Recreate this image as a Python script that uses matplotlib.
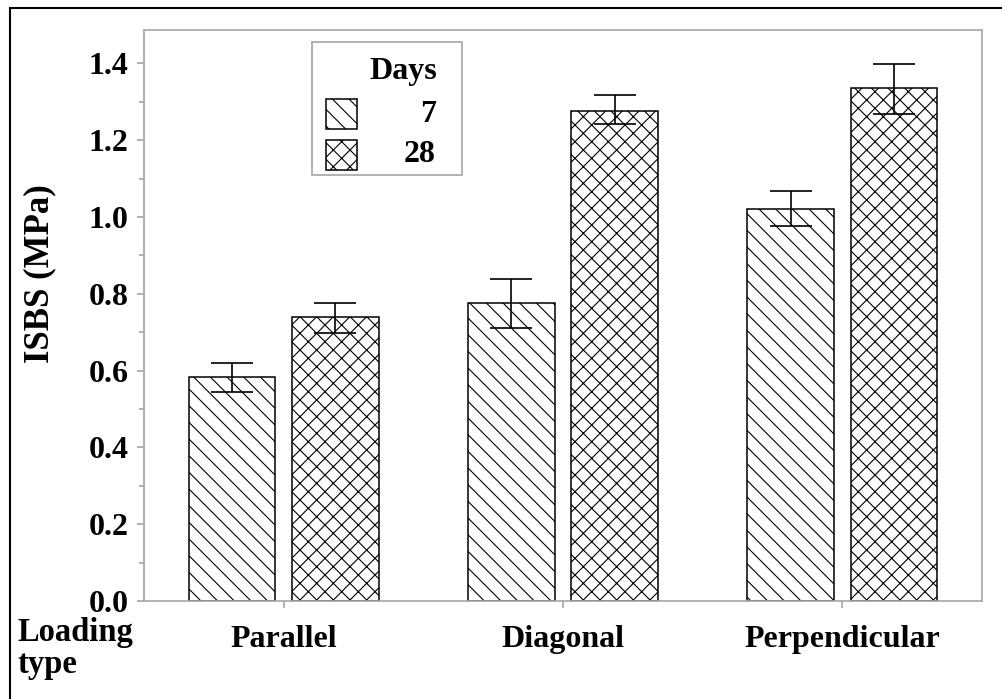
import numpy as np
import matplotlib
matplotlib.use("Agg")
import matplotlib.pyplot as plt
from matplotlib.patches import Rectangle
from matplotlib.ticker import MultipleLocator, FormatStrFormatter

# data
loading_types = ["Parallel", "Diagonal", "Perpendicular"]
days = ["7", "28"]
isbs_7 = [0.583, 0.776, 1.021]
isbs_28 = [0.739, 1.276, 1.335]
err_lo_7 = [0.039, 0.064, 0.045]
err_hi_7 = [0.038, 0.063, 0.046]
err_lo_28 = [0.040, 0.035, 0.067]
err_hi_28 = [0.037, 0.042, 0.064]

plt.rcParams["font.family"] = ["Liberation Serif", "DejaVu Serif"]
plt.rcParams["font.weight"] = "bold"
plt.rcParams["hatch.linewidth"] = 0.8

W, H = 1002, 699
fig = plt.figure(figsize=(W / 100, H / 100), dpi=100)
ax = fig.add_axes([144 / W, 1 - 601 / H, 838 / W, 571 / H])

x = np.arange(1, len(loading_types) + 1)
width = 0.31
offset = 0.185
gray = "#a6a6a6"
hatch_7, hatch_28 = "\\\\", "xx"

ax.bar(x - offset, isbs_7, width, color="white", edgecolor="black",
       linewidth=1.1, hatch=hatch_7, zorder=2)
ax.bar(x + offset, isbs_28, width, color="white", edgecolor="black",
       linewidth=1.1, hatch=hatch_28, zorder=2)
ax.errorbar(x - offset, isbs_7, yerr=[err_lo_7, err_hi_7], fmt="none",
            ecolor="black", elinewidth=1.2, capsize=15, capthick=1.2, zorder=3)
ax.errorbar(x + offset, isbs_28, yerr=[err_lo_28, err_hi_28], fmt="none",
            ecolor="black", elinewidth=1.2, capsize=15, capthick=1.2, zorder=3)

ax.set_xlim(0.5, 3.5)
ax.set_ylim(0, 1.487)
ax.yaxis.set_major_locator(MultipleLocator(0.2))
ax.yaxis.set_minor_locator(MultipleLocator(0.1))
ax.yaxis.set_major_formatter(FormatStrFormatter("%.1f"))
ax.set_xticks(x)
ax.set_xticklabels(loading_types)

for s in ax.spines.values():
    s.set_color(gray)
    s.set_linewidth(1.2)
ax.tick_params(axis="both", which="major", direction="out", length=5,
               width=1.2, color=gray, labelsize=23)
ax.tick_params(axis="y", which="minor", direction="out", length=3.5,
               width=1.2, color=gray)
ax.tick_params(axis="y", which="major", pad=6)
ax.tick_params(axis="x", which="major", pad=12)
for lbl in ax.get_xticklabels() + ax.get_yticklabels():
    lbl.set_fontweight("bold")

fig.text(40 / W, 1 - 274 / H, "ISBS (MPa)", rotation=90, fontsize=25,
         fontweight="bold", ha="center", va="center")
fig.text(17 / W, 1 - 641 / H, "Loading", fontsize=23.5, fontweight="bold",
         ha="left", va="baseline")
fig.text(17 / W, 1 - 673 / H, "type", fontsize=23.5, fontweight="bold",
         ha="left", va="baseline")


def fpx(px, py):
    return px / W, 1 - py / H


# legend box drawn in figure pixels
fig.patches.append(Rectangle(fpx(312, 175), 150 / W, 133 / H,
                             transform=fig.transFigure, facecolor="white",
                             edgecolor=gray, linewidth=1.2, zorder=5))
fig.text(*fpx(403, 72), "Days", fontsize=23, fontweight="bold",
         ha="center", va="center", zorder=6)
for (py, lab, hatch) in [(114, days[0], hatch_7), (155, days[1], hatch_28)]:
    fig.patches.append(Rectangle(fpx(326, py + 15), 31 / W, 30 / H,
                                 transform=fig.transFigure, facecolor="white",
                                 edgecolor="black", linewidth=1.1, hatch=hatch,
                                 zorder=6))
    fig.text(*fpx(436, py), lab, fontsize=23, fontweight="bold",
             ha="right", va="center", zorder=6)

# outer frame (right and bottom edges fall outside the picture)
fig.patches.append(Rectangle(fpx(10, 720), 1020 / W, 712 / H,
                             transform=fig.transFigure, fill=False,
                             edgecolor="black", linewidth=1.5, zorder=10))

fig.savefig("out.png", dpi=100)
